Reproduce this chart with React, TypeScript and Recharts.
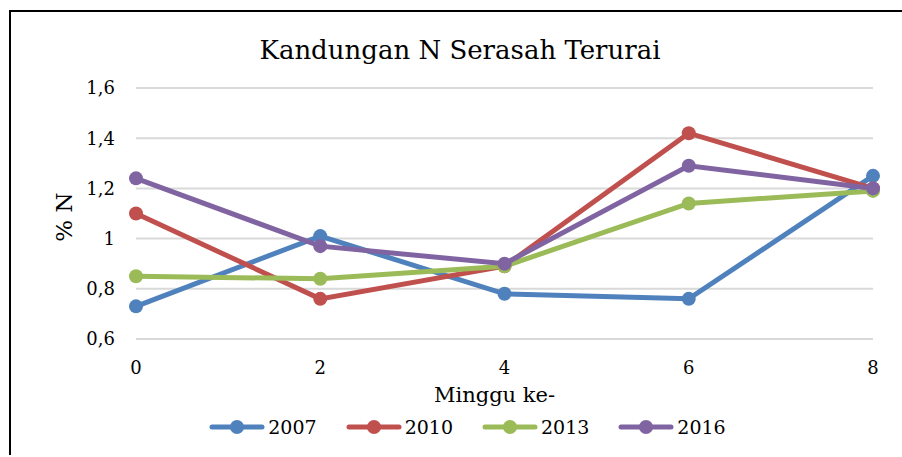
import React from "react";
import { LineChart, Line, CartesianGrid, XAxis, YAxis, Legend, Label } from "recharts";

const weeks = [0, 2, 4, 6, 8];
const n2007 = [0.73, 1.01, 0.78, 0.76, 1.25];
const n2010 = [1.1, 0.76, 0.89, 1.42, 1.2];
const n2013 = [0.85, 0.84, 0.89, 1.14, 1.19];
const n2016 = [1.24, 0.97, 0.9, 1.29, 1.2];
const yTicks = [0.6, 0.8, 1, 1.2, 1.4, 1.6];

const series = [
  { key: "y2007", name: "2007", color: "#4F81BD", values: n2007 },
  { key: "y2010", name: "2010", color: "#C0504D", values: n2010 },
  { key: "y2013", name: "2013", color: "#9BBB59", values: n2013 },
  { key: "y2016", name: "2016", color: "#8064A2", values: n2016 },
];

const data = weeks.map((w, i) => {
  const row: any = { week: w };
  series.forEach((s) => (row[s.key] = s.values[i]));
  return row;
});

const FONT = "DejaVu Serif";

const fmt = (v: number) => (v === 1 ? "1" : v.toFixed(1).replace(".", ","));

const LegendContent = () => (
  <div
    style={{
      display: "flex",
      justifyContent: "center",
      paddingLeft: 22,
      fontFamily: FONT,
      fontSize: 19,
      color: "#000",
    }}
  >
    {series.map((s, i) => (
      <div
        key={s.key}
        style={{ display: "flex", alignItems: "center", marginRight: i === series.length - 1 ? 0 : 29 }}
      >
        <svg width={56} height={28}>
          <line x1={3} x2={53} y1={14} y2={14} stroke={s.color} strokeWidth={5} strokeLinecap="round" />
          <circle cx={28} cy={14} r={7} fill={s.color} />
        </svg>
        <span style={{ marginLeft: 3, lineHeight: "28px" }}>{s.name}</span>
      </div>
    ))}
  </div>
);

const App: React.FC = () => {
  return (
    <>
      <style>{"html,body{margin:0;padding:0;overflow:hidden;}"}</style>
      <div
        style={{
          position: "relative",
          marginLeft: 9,
          marginTop: 10,
          width: 1000,
          height: 443,
          borderTop: "2px solid #000",
          borderLeft: "2px solid #000",
          background: "#fff",
        }}
      >
        <div
          style={{
            position: "absolute",
            top: 25,
            left: 0,
            width: 898,
            textAlign: "center",
            fontFamily: FONT,
            fontSize: 26,
            lineHeight: "26px",
            color: "#000",
          }}
        >
          Kandungan N Serasah Terurai
        </div>
        <LineChart width={891} height={443} data={data} margin={{ top: 76, right: 29, left: 0, bottom: 56 }}>
          <CartesianGrid vertical={false} stroke="#d9d9d9" strokeWidth={2} />
          <XAxis
            dataKey="week"
            type="number"
            domain={[0, 8]}
            ticks={weeks}
            axisLine={false}
            tickLine={false}
            tickMargin={16}
            height={60}
            tick={{ fill: "#000", fontSize: 18, fontFamily: FONT }}
          >
            <Label
              content={({ viewBox }: any) => (
                <text
                  x={viewBox.x + viewBox.width / 2 - 10}
                  y={390}
                  textAnchor="middle"
                  fill="#000"
                  fontSize={21}
                  fontFamily={FONT}
                >
                  Minggu ke-
                </text>
              )}
            />
          </XAxis>
          <YAxis
            domain={[0.6, 1.6]}
            ticks={yTicks}
            axisLine={false}
            tickLine={false}
            tickMargin={15}
            width={125}
            tickFormatter={fmt}
            tick={{ fill: "#000", fontSize: 18, fontFamily: FONT }}
          >
            <Label
              content={({ viewBox }: any) => {
                const cx = 53;
                const cy = viewBox.y + viewBox.height / 2 + 3.5;
                return (
                  <text
                    x={cx}
                    y={cy}
                    transform={`rotate(-90, ${cx}, ${cy})`}
                    textAnchor="middle"
                    dominantBaseline="central"
                    fill="#000"
                    fontSize={23}
                    fontFamily={FONT}
                  >
                    % N
                  </text>
                );
              }}
            />
          </YAxis>
          <Legend
            layout="horizontal"
            verticalAlign="middle"
            content={<LegendContent />}
            wrapperStyle={{ top: 401, left: 0, width: 891, height: 28 }}
          />
          {series.map((s) => (
            <Line
              key={s.key}
              dataKey={s.key}
              name={s.name}
              stroke={s.color}
              strokeWidth={5}
              dot={{ r: 7, fill: s.color, stroke: s.color, strokeWidth: 0 }}
              activeDot={false}
              isAnimationActive={false}
            />
          ))}
        </LineChart>
      </div>
    </>
  );
};

export default App;
